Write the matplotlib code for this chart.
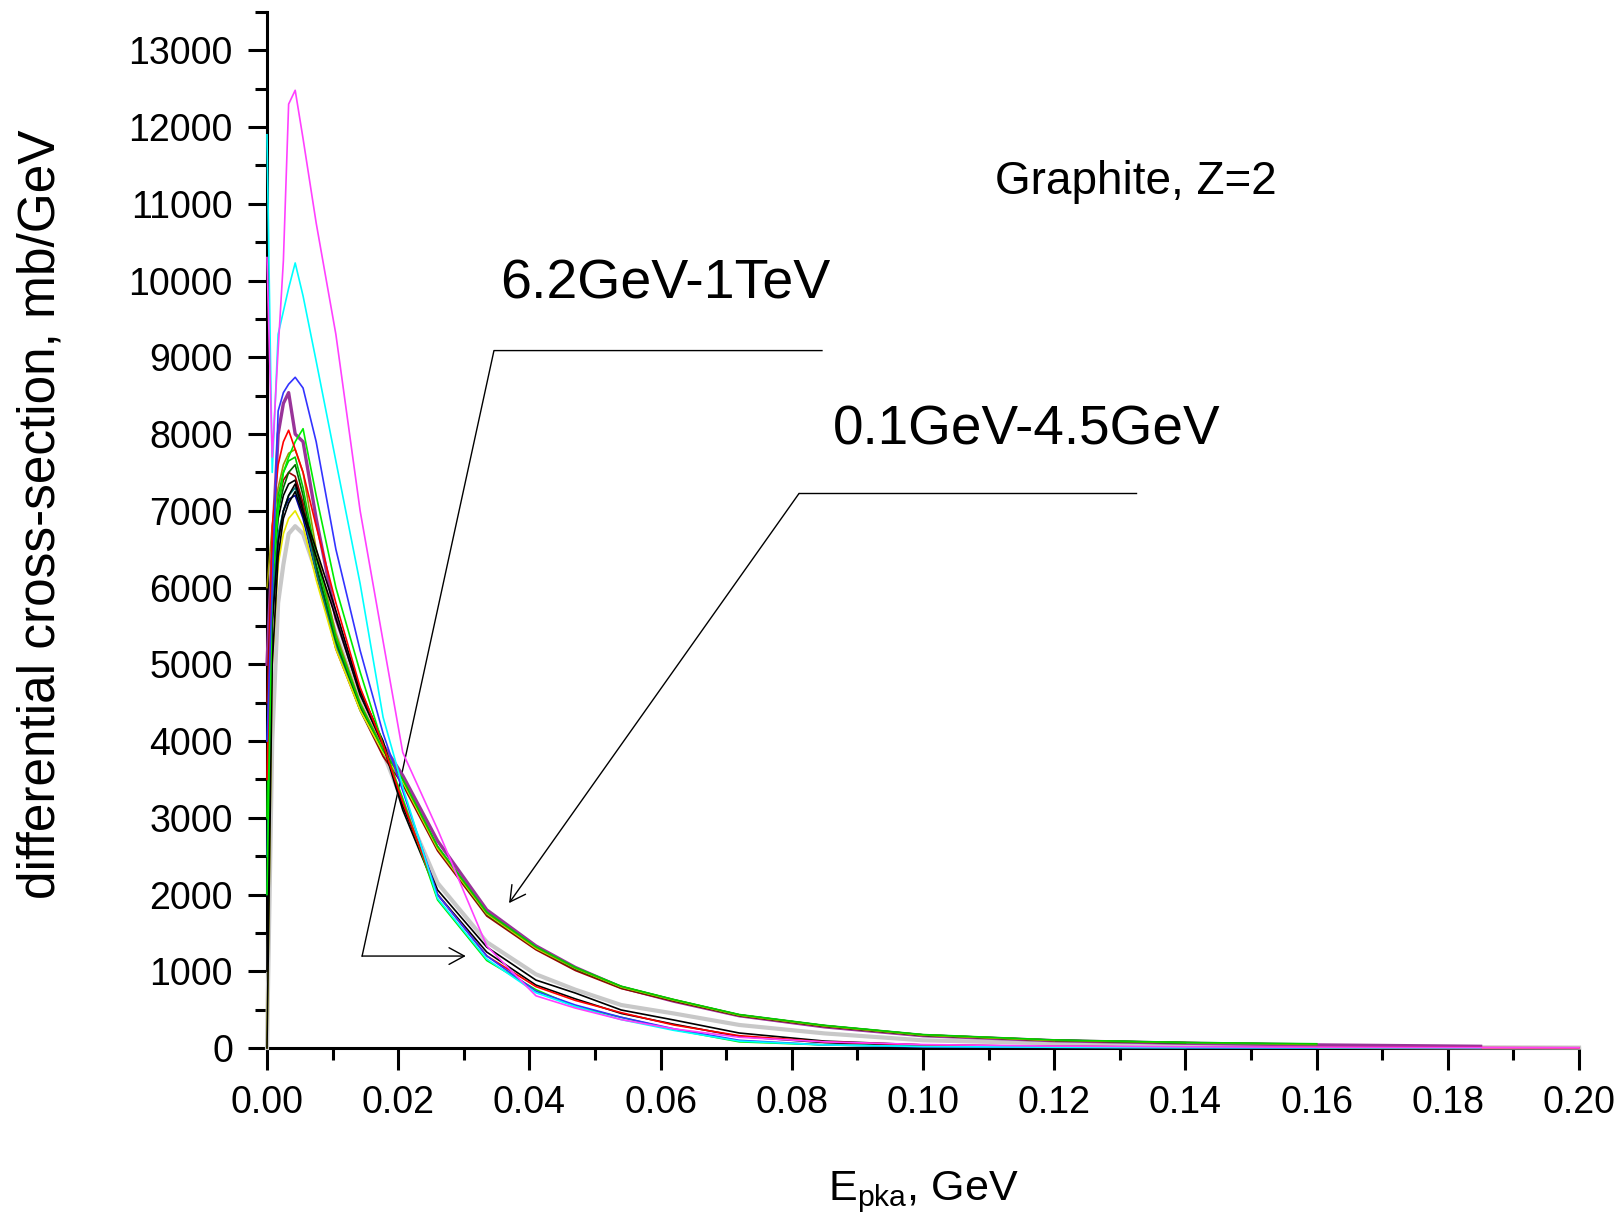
import matplotlib
matplotlib.use('Agg')
import matplotlib.pyplot as plt
import numpy as np
from matplotlib.ticker import MultipleLocator, FormatStrFormatter

plt.rcParams['font.family'] = ['Liberation Sans', 'DejaVu Sans']

nan = np.nan

# recoil energy grid, GeV
e_pka = [0, 0.0008, 0.0017, 0.0025, 0.0033, 0.0043, 0.0055, 0.0075, 0.0105, 0.0142,
         0.0177, 0.0207, 0.026, 0.0335, 0.041, 0.047, 0.054, 0.062, 0.072, 0.085,
         0.1, 0.12, 0.14, 0.16, 0.185, 0.2]

# 6.2 GeV - 1 TeV group (mb/GeV)
hi_magenta = [10300, 7700, 9100, 10260, 12300, 12480, 11850, 10750, 9300, 7000,
              5300, 3850, 2850, 1330, 680, 520, 370, 250, 140, 80, 45, 25, 15, 10, 6, 4]
hi_cyan = [11900, 7500, 9300, 9600, 9900, 10230, 9800, 8950, 7650, 6050,
           4310, 3400, 1950, 1160, 720, 540, 370, 230, 90, 40, 20, 10, 5, 3, 2, nan]
hi_blue = [4000, 6000, 8300, 8540, 8650, 8740, 8600, 7900, 6500, 5180,
           4100, 3350, 2000, 1200, 740, 560, 400, 250, 100, 40, 15, 8, 4, 2, nan, nan]
hi_red = [3500, 6800, 7600, 7900, 8050, 7800, 7500, 6800, 5800, 4700,
          3950, 3200, 2000, 1200, 800, 620, 460, 300, 160, 80, 40, 20, 12, 8, 5, 3]
hi_green = [2000, 6000, 7000, 7500, 7700, 7900, 8070, 7200, 6000, 4900,
            3950, 3250, 1930, 1140, 760, 540, 400, 240, 80, 40, 20, 10, 5, nan, nan, nan]
hi_black1 = [1000, 5500, 6600, 7000, 7200, 7350, 7000, 6500, 5700, 4650,
             4000, 3150, 2060, 1315, 885, 716, 495, 365, 195, 90, 40, 20, 10, 5, 3, nan]
hi_black2 = [0, 5000, 6400, 6900, 7100, 7250, 6950, 6400, 5600, 4600,
             3950, 3100, 2000, 1250, 820, 640, 450, 310, 150, 70, 30, 15, 8, 4, nan, nan]
hi_grey = [0, 4000, 5800, 6300, 6700, 6800, 6700, 6200, 5400, 4500,
           3850, 3200, 2150, 1380, 960, 760, 560, 450, 300, 190, 100, 60, 30, 15, 8, 5]

# 0.1 GeV - 4.5 GeV group (mb/GeV)
lo_purple = [5000, 6500, 8000, 8400, 8540, 8000, 7900, 6900, 5600, 4650,
             3950, 3550, 2700, 1800, 1330, 1050, 790, 610, 420, 275, 160, 95, 62, 40, 22, nan]
lo_olive = [6000, 6800, 7300, 7600, 7750, 7800, 7500, 6500, 5400, 4500,
            3900, 3500, 2620, 1760, 1310, 1040, 800, 630, 430, 290, 170, 100, 70, 45, nan, nan]
lo_dkgreen = [3000, 6200, 7000, 7300, 7500, 7600, 7200, 6300, 5300, 4450,
              3850, 3480, 2600, 1740, 1300, 1030, 790, 620, 425, 285, 165, 100, 68, nan, nan, nan]
lo_teal = [2500, 5800, 6700, 7000, 7200, 7300, 7000, 6200, 5250, 4400,
           3850, 3480, 2610, 1750, 1310, 1040, 795, 625, 430, 290, 170, 100, 68, 45, nan, nan]
lo_dkred = [4500, 6500, 7100, 7400, 7500, 7450, 7100, 6200, 5200, 4400,
            3800, 3430, 2570, 1720, 1280, 1010, 775, 610, 420, 280, 165, 95, 65, nan, nan, nan]
lo_yellow = [0, 5000, 6300, 6700, 6900, 7000, 6800, 6100, 5200, 4400,
             3850, 3470, 2600, 1750, 1300, 1040, 795, 625, 430, 290, 170, 100, nan, nan, nan, nan]
lo_navy = [2000, 5600, 6600, 7000, 7150, 7200, 6900, 6200, 5250, 4420,
           3850, 3470, 2600, 1745, 1305, 1035, 790, 620, 428, 288, 168, 100, 68, nan, nan, nan]
lo_black = [1500, 6000, 6900, 7200, 7350, 7400, 7050, 6250, 5300, 4450,
            3870, 3490, 2620, 1760, 1315, 1045, 800, 628, 432, 292, 172, 102, 70, 46, nan, nan]
lo_green = [3000, 6300, 7200, 7500, 7650, 7700, 7300, 6400, 5350, 4480,
            3880, 3500, 2630, 1770, 1320, 1050, 805, 632, 436, 295, 175, 105, 72, 55, nan, nan]

# annotation leaders (data coords)
lead_hi_x = [0.0846, 0.0346, 0.0145]
lead_hi_y = [9088, 9088, 1198]
arrow_hi_tip = (0.0303, 1198)
lead_lo_x = [0.1325, 0.0811]
lead_lo_y = [7226, 7226]
arrow_lo_tip = (0.0369, 1888)

series = [
    (hi_grey, '#c8c8c8', 3.0),
    (lo_black, '#000000', 1.2),
    (lo_purple, '#993399', 2.4),
    (lo_navy, '#000099', 1.2),
    (lo_dkred, '#990000', 1.2),
    (lo_teal, '#008080', 1.2),
    (lo_dkgreen, '#006600', 1.2),
    (lo_yellow, '#e6e600', 1.2),
    (lo_olive, '#999900', 1.2),
    (lo_green, '#00cc00', 1.2),
    (hi_black2, '#000000', 1.2),
    (hi_black1, '#000000', 1.2),
    (hi_green, '#00ee00', 1.2),
    (hi_red, '#ff0000', 1.2),
    (hi_blue, '#3333ff', 1.2),
    (hi_cyan, '#00ffff', 1.2),
    (hi_magenta, '#ff40ff', 1.2),
]

fig = plt.figure(figsize=(16.22, 12.25), dpi=100)
ax = fig.add_axes([0.1646, 0.1445, 0.8089, 0.8457])

for vals, color, lw in series:
    ax.plot(e_pka, vals, color=color, lw=lw, clip_on=False, zorder=3)

ax.set_xlim(0, 0.2)
ax.set_ylim(0, 13500)
ax.xaxis.set_major_locator(MultipleLocator(0.02))
ax.xaxis.set_minor_locator(MultipleLocator(0.01))
ax.xaxis.set_major_formatter(FormatStrFormatter('%.2f'))
ax.yaxis.set_minor_locator(MultipleLocator(500))
ax.set_yticks(np.arange(0, 13001, 1000))

for side in ['top', 'right']:
    ax.spines[side].set_visible(False)
for side in ['left', 'bottom']:
    ax.spines[side].set_linewidth(2.2)

ax.tick_params(axis='x', which='major', direction='out', length=16, width=2.2,
               labelsize=27, pad=11)
ax.tick_params(axis='y', which='major', direction='out', length=13.5, width=2.2,
               labelsize=27, pad=11)
ax.tick_params(which='minor', direction='out', length=8.5, width=2.2)

# leader lines with arrows
ax.plot(lead_hi_x, lead_hi_y, color='k', lw=1.0)
ax.annotate('', xy=arrow_hi_tip, xytext=(lead_hi_x[-1], lead_hi_y[-1]),
            arrowprops=dict(arrowstyle='->,head_length=0.55,head_width=0.3',
                            color='k', lw=1.0, mutation_scale=20, shrinkA=0, shrinkB=0))
ax.plot(lead_lo_x, lead_lo_y, color='k', lw=1.0)
ax.annotate('', xy=arrow_lo_tip, xytext=(lead_lo_x[-1], lead_lo_y[-1]),
            arrowprops=dict(arrowstyle='->,head_length=0.55,head_width=0.3',
                            color='k', lw=1.0, mutation_scale=20, shrinkA=0, shrinkB=0))

ax.text(0.111, 11288, 'Graphite, Z=2', fontsize=33, va='center')
ax.text(0.0355, 9947, '6.2GeV-1TeV', fontsize=40, va='center')
ax.text(0.0863, 8046, '0.1GeV-4.5GeV', fontsize=39.5, va='center')

fig.text(41 / 1622, 1 - 514 / 1225, 'differential cross-section, mb/GeV',
         rotation=90, ha='center', va='center', fontsize=37)
fig.text(0.569, 0.0204, r'E$_{\mathregular{pka}}$, GeV', ha='center',
         va='baseline', fontsize=31)

fig.savefig('out.png', dpi=100)
